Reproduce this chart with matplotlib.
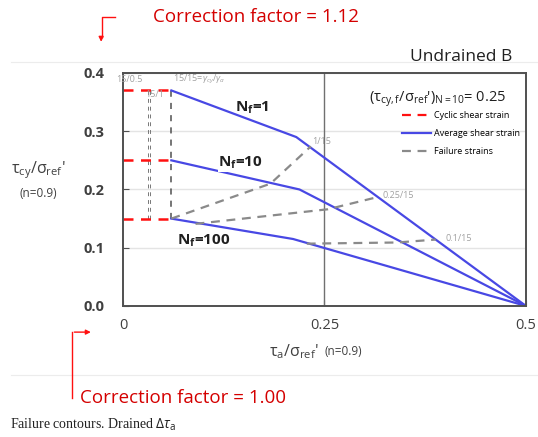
import matplotlib
matplotlib.use("Agg")
import matplotlib.pyplot as plt
from matplotlib.lines import Line2D

plt.rcParams['font.family'] = ['Open Sans', 'DejaVu Sans']
plt.rcParams['mathtext.fontset'] = 'custom'
plt.rcParams['mathtext.rm'] = 'Open Sans'
plt.rcParams['mathtext.it'] = 'Open Sans:italic'
plt.rcParams['mathtext.bf'] = 'Open Sans:bold'

# data
cyc_levels = [0.37, 0.25, 0.15]          # tau_cy/sigma_ref' at the start of each contour
cyc_x = [0.0, 0.06]
nf_names = ['1', '10', '100']
nf_x = [[0.06, 0.215, 0.5], [0.06, 0.219, 0.5], [0.06, 0.211, 0.5]]
nf_y = [[0.37, 0.29, 0.0], [0.25, 0.20, 0.0], [0.15, 0.115, 0.0]]
fail_names = ['1/15', '0.25/15', '0.1/15']
fail_x = [[0.06, 0.183, 0.233], [0.09, 0.254, 0.316], [0.228, 0.34, 0.388]]
fail_y = [[0.15, 0.21, 0.274], [0.141, 0.166, 0.187], [0.107, 0.109, 0.114]]
vert_x = [0.0305, 0.0335, 0.06]
xticks = [0, 0.25, 0.5]
xtick_labels = ['0', '0.25', '0.5']
yticks = [0.0, 0.1, 0.2, 0.3, 0.4]

blue = '#4848e4'
red = '#ff1010'
grey = '#8a8a8a'
dark = '#505050'

fig = plt.figure(figsize=(5.38, 4.37), dpi=100)
ax = fig.add_axes([0.2286, 0.2998, 0.7491, 0.5332])
ax.set_xlim(0, 0.5)
ax.set_ylim(0, 0.4)

ax.grid(axis='y', color='#e4e4e4', lw=1)
ax.set_axisbelow(True)
ax.axvline(0.25, color='#707070', lw=1)

for i, x in enumerate(vert_x):
    lw = 1.1 if i == len(vert_x) - 1 else 0.7
    col = dark if i == len(vert_x) - 1 else '#777777'
    ax.plot([x, x], [cyc_levels[-1], cyc_levels[0]], ls=(0, (4, 4)), color=col, lw=lw)
for y in cyc_levels:
    ax.plot(cyc_x, [y, y], ls=(0, (4, 3)), color=red, lw=1.8)
for xs, ys in zip(nf_x, nf_y):
    ax.plot(xs, ys, color=blue, lw=1.6)
for xs, ys in zip(fail_x, fail_y):
    ax.plot(xs, ys, ls=(0, (4, 3)), color=grey, lw=1.6)

# small labels
small = dict(fontsize=6.5, color='#a0a0a0')
ax.text(fail_x[0][-1] + 0.002, fail_y[0][-1] + 0.004, fail_names[0], **small)
ax.text(fail_x[1][-1] + 0.006, fail_y[1][-1] - 0.002, fail_names[1], **small)
ax.text(fail_x[2][-1] + 0.012, fail_y[2][-1] - 0.002, fail_names[2], **small)
ax.text(-0.008, 0.385, '15/0.5', **small)
ax.text(0.028, 0.358, '15/1', **small)
ax.text(0.062, 0.385, r'15/15=$\gamma_{cy}/\gamma_a$', **small)

bold = dict(fontsize=11, fontweight='bold', color='#202020', ha='center', va='center')
ax.text(0.16, 0.34, r'N$_{\mathbf{f}}$=1', **bold)
ax.text(0.146, 0.245, r'N$_{\mathbf{f}}$=10',
        bbox=dict(boxstyle='square,pad=0.05', fc='white', ec='none'), **bold)
ax.text(0.10, 0.112, r'N$_{\mathbf{f}}$=100', **bold)

ax.text(0.475, 0.355, r"($\mathregular{\tau_{cy,f}/\sigma_{ref}}$')$_{\mathregular{N=10}}$= 0.25",
        fontsize=10.5, color='#202020', ha='right', va='center')

handles = [Line2D([], [], color=red, ls=(0, (4, 3)), lw=1.6),
           Line2D([], [], color=blue, lw=1.6),
           Line2D([], [], color=grey, ls=(0, (4, 3)), lw=1.6)]
ax.legend(handles, ['Cyclic shear strain', 'Average shear strain', 'Failure strains'],
          loc='upper right', bbox_to_anchor=(1.005, 0.87), frameon=False, fontsize=6.5,
          handlelength=3.2, handletextpad=0.3, labelspacing=1.0)

ax.set_xticks(xticks)
ax.set_xticklabels(xtick_labels)
ax.set_yticks(yticks)
ax.set_yticklabels([f'{v:.1f}' for v in yticks])
ax.tick_params(axis='both', direction='in', length=4, colors=dark, labelcolor='#404040', labelsize=10.5)
ax.tick_params(axis='y', pad=13)
ax.tick_params(axis='x', pad=9)
for lab in ax.get_yticklabels():
    lab.set_fontweight('bold')
for s in ax.spines.values():
    s.set_color(dark)
    s.set_linewidth(1.4)

fig.text(0.592, 0.195, r"$\mathregular{\tau_a/\sigma_{ref}}$'", fontsize=11.5, color='#404040', ha='right', va='center')
fig.text(0.603, 0.195, '(n=0.9)', fontsize=8.5, color='#404040', ha='left', va='center')
fig.text(0.072, 0.61, r"$\mathregular{\tau_{cy}/\sigma_{ref}}$'", fontsize=11.5, color='#404040', ha='center', va='center')
fig.text(0.072, 0.558, '(n=0.9)', fontsize=8.5, color='#404040', ha='center', va='center')

fig.text(0.953, 0.87, 'Undrained B', fontsize=12.5, color='#202020', ha='right', va='center')

# outer chart borders
fig.add_artist(Line2D([0.02, 1.0], [0.858, 0.858], color='#ececec', lw=0.8))
fig.add_artist(Line2D([0.02, 1.0], [0.142, 0.142], color='#ececec', lw=0.8))

# correction factor notes
fig.text(0.285, 0.962, 'Correction factor = 1.12', fontsize=13.5, color='#d40000', ha='left', va='center')
fig.add_artist(Line2D([0.214, 0.190, 0.190], [0.961, 0.961, 0.915], color=red, lw=1))
ax.annotate('', xy=(0.188, 0.898), xytext=(0.188, 0.92), xycoords='figure fraction',
            arrowprops=dict(arrowstyle='-|>', color=red, lw=1, mutation_scale=7))
fig.text(0.148, 0.089, 'Correction factor = 1.00', fontsize=13.5, color='#d40000', ha='left', va='center')
fig.add_artist(Line2D([0.134, 0.134], [0.089, 0.24], color=red, lw=1))
ax.annotate('', xy=(0.174, 0.24), xytext=(0.133, 0.24), xycoords='figure fraction',
            arrowprops=dict(arrowstyle='-|>', color=red, lw=1, mutation_scale=7))

fig.text(0.018, 0.027, r'Failure contours. Drained $\Delta\tau_{\mathrm{a}}$', fontsize=10,
         family=['Liberation Serif', 'DejaVu Serif'], color='#202020', ha='left', va='center')

fig.savefig('out.png', dpi=100)
